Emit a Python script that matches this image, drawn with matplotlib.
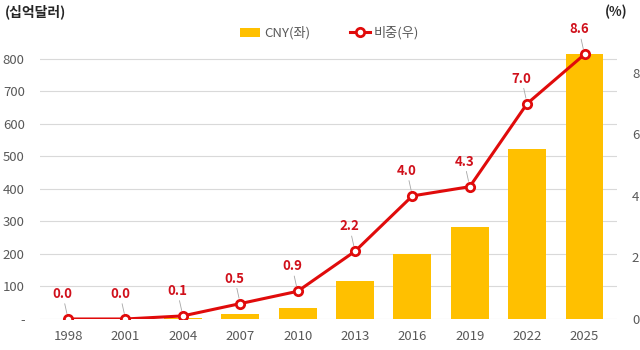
import matplotlib
matplotlib.use("Agg")
import matplotlib.pyplot as plt
import numpy as np

plt.rcParams['font.family'] = ['Noto Sans CJK KR', 'DejaVu Sans']

years = ['1998', '2001', '2004', '2007', '2010', '2013', '2016', '2019', '2022', '2025']
cny = [0, 0, 2, 14, 33, 118, 200, 284, 522, 816]        # 십억달러
share = [0.0, 0.0, 0.1, 0.5, 0.9, 2.2, 4.0, 4.3, 7.0, 8.6]  # %

BAR_COLOR = '#FFC000'
LINE_COLOR = '#E00B0B'
LABEL_COLOR = '#D0101B'
TICK_COLOR = '#595959'

fig = plt.figure(figsize=(6.4, 3.5), dpi=100)
ax1 = fig.add_axes([0.0625, 0.0886, 0.901, 0.825])
ax2 = ax1.twinx()

x = np.arange(len(years))
bars = ax1.bar(x, cny, width=0.66, color=BAR_COLOR, zorder=2)

ymax_left = 888
ax1.set_ylim(0, ymax_left)
ax2.set_ylim(0, ymax_left * 8 / 757)
ax1.set_xlim(-0.49, 9.56)

ax1.set_yticks(np.arange(0, 801, 100))
ax1.set_yticklabels(['-'] + [str(v) for v in range(100, 801, 100)])
ax2.set_yticks([0, 2, 4, 6, 8])
ax1.set_xticks(x)
ax1.set_xticklabels(years)

ax1.grid(axis='y', color='#D9D9D9', linewidth=0.8, zorder=0)
ax1.set_axisbelow(True)
for a in (ax1, ax2):
    for s in a.spines.values():
        s.set_visible(False)
    a.tick_params(length=0, labelsize=9.5, colors=TICK_COLOR)
ax1.tick_params(axis='y', pad=11)
ax1.tick_params(axis='x', pad=8)
ax2.tick_params(axis='y', pad=11)

line, = ax2.plot(x, share, color=LINE_COLOR, linewidth=2.2, marker='o',
                 markersize=6, markerfacecolor='white', markeredgecolor=LINE_COLOR,
                 markeredgewidth=2.0, zorder=5)

for xi, v in zip(x, share):
    ax2.annotate(f'{v:.1f}', xy=(xi, v), xytext=(-4, 13), textcoords='offset points',
                 ha='center', va='bottom', color=LABEL_COLOR, fontsize=9.5, fontweight='bold',
                 arrowprops=dict(arrowstyle='-', color='#A6A6A6', lw=0.6,
                                 shrinkA=0, shrinkB=4))

fig.text(0.008, 0.965, '(십억달러)', fontsize=10, color='#262626', va='center', ha='left',
         fontweight='bold')
fig.text(0.98, 0.965, '(%)', fontsize=9.5, color='#262626', va='center', ha='right',
         fontweight='bold')

fig.legend([bars, line], ['CNY(좌)', '비중(우)'], loc='center', bbox_to_anchor=(0.515, 0.905),
           ncol=2, frameon=False, fontsize=9.5, handlelength=1.5, handletextpad=0.3,
           columnspacing=3.0, labelcolor=TICK_COLOR)

fig.savefig('out.png', dpi=100)
